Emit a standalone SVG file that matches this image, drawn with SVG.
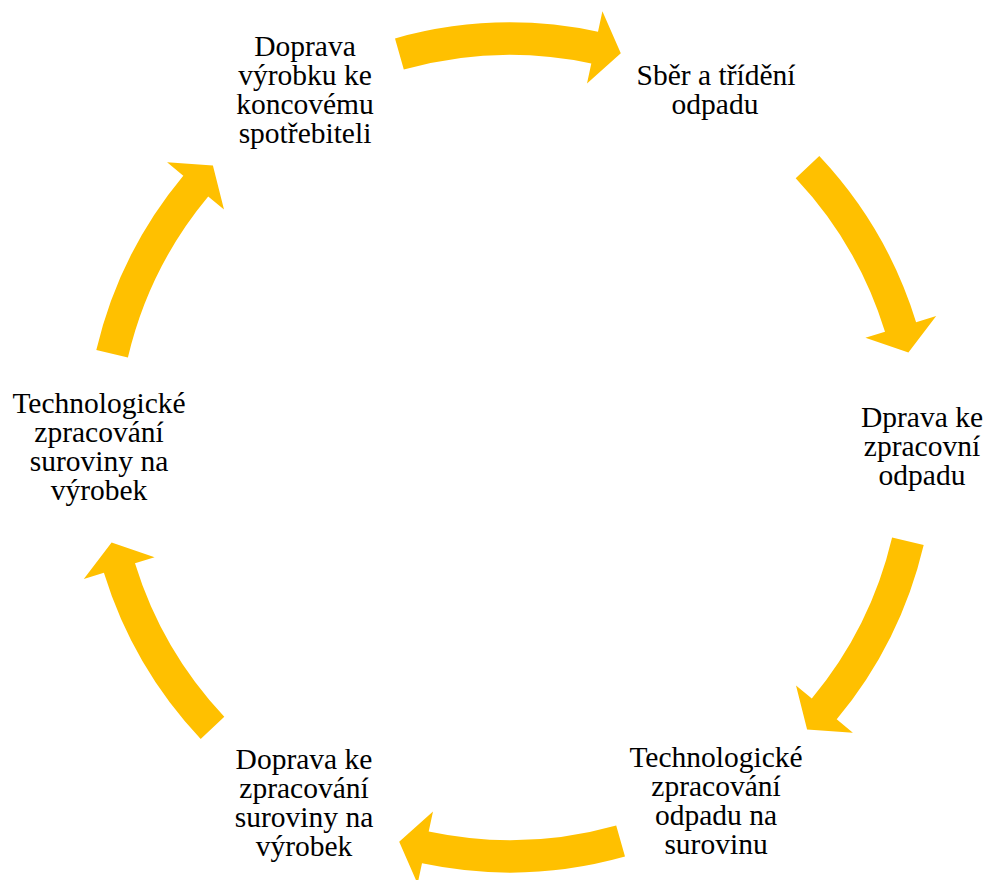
<svg xmlns="http://www.w3.org/2000/svg" width="986" height="880" viewBox="0 0 986 880">
  <style>
    .lbl { font-family: "Liberation Serif", "Times New Roman", serif; font-size: 29.5px; fill: #000000; text-anchor: middle; }
    .arrow { fill: #FFC000; stroke: none; }
  </style>
  <rect x="0" y="0" width="986" height="880" fill="#ffffff"/>

  <!-- curved block arrows around the cycle (centre 510,447.5) -->
  <g id="connectors">
    <path class="arrow" d="M 395.0 38.4 A 425 425 0 0 1 598.0 31.7 L 602.4 11.2 L 620.8 53.3 L 587.0 83.6 L 591.3 63.5 A 392.5 392.5 0 0 0 403.8 69.6 Z"/>
    <path class="arrow" d="M 819.3 156.0 A 425 425 0 0 1 916.1 322.2 L 936.2 316.0 L 908.4 352.6 L 865.4 337.8 L 885.0 331.8 A 392.5 392.5 0 0 0 795.7 178.3 Z"/>
    <path class="arrow" d="M 923.7 544.9 A 425 425 0 0 1 836.7 719.3 L 852.9 732.8 L 807.1 729.4 L 796.0 685.4 L 811.8 698.5 A 392.5 392.5 0 0 0 892.1 537.5 Z"/>
    <path class="arrow" d="M 625.0 856.6 A 425 425 0 0 1 422.0 863.3 L 417.6 883.8 L 399.2 841.7 L 433.0 811.4 L 428.7 831.5 A 392.5 392.5 0 0 0 616.2 825.4 Z"/>
    <path class="arrow" d="M 200.7 739.0 A 425 425 0 0 1 103.9 572.8 L 83.8 579.0 L 111.6 542.4 L 154.6 557.2 L 135.0 563.2 A 392.5 392.5 0 0 0 224.3 716.7 Z"/>
    <path class="arrow" d="M 96.3 350.1 A 425 425 0 0 1 183.3 175.7 L 167.1 162.2 L 212.9 165.6 L 224.0 209.6 L 208.2 196.5 A 392.5 392.5 0 0 0 127.9 357.5 Z"/>
  </g>

  <g id="node-doprava-vyrobku">
    <text class="lbl" x="305" y="56">Doprava</text>
    <text class="lbl" x="305" y="85">výrobku ke</text>
    <text class="lbl" x="305" y="114">koncovému</text>
    <text class="lbl" x="305" y="143">spotřebiteli</text>
  </g>

  <g id="node-sber">
    <text class="lbl" x="716" y="85">Sběr a třídění</text>
    <text class="lbl" x="715" y="114">odpadu</text>
  </g>

  <g id="node-doprava-odpadu">
    <text class="lbl" x="922" y="427">Dprava ke</text>
    <text class="lbl" x="922" y="456">zpracovní</text>
    <text class="lbl" x="922" y="485">odpadu</text>
  </g>

  <g id="node-zpracovani-odpadu">
    <text class="lbl" x="716" y="767">Technologické</text>
    <text class="lbl" x="716" y="796">zpracování</text>
    <text class="lbl" x="716" y="825">odpadu na</text>
    <text class="lbl" x="716" y="854">surovinu</text>
  </g>

  <g id="node-doprava-suroviny">
    <text class="lbl" x="304" y="769">Doprava ke</text>
    <text class="lbl" x="304" y="798">zpracování</text>
    <text class="lbl" x="304" y="827">suroviny na</text>
    <text class="lbl" x="304" y="856">výrobek</text>
  </g>

  <g id="node-zpracovani-suroviny">
    <text class="lbl" x="99" y="413">Technologické</text>
    <text class="lbl" x="99" y="442">zpracování</text>
    <text class="lbl" x="99" y="471">suroviny na</text>
    <text class="lbl" x="99" y="500">výrobek</text>
  </g>
</svg>
